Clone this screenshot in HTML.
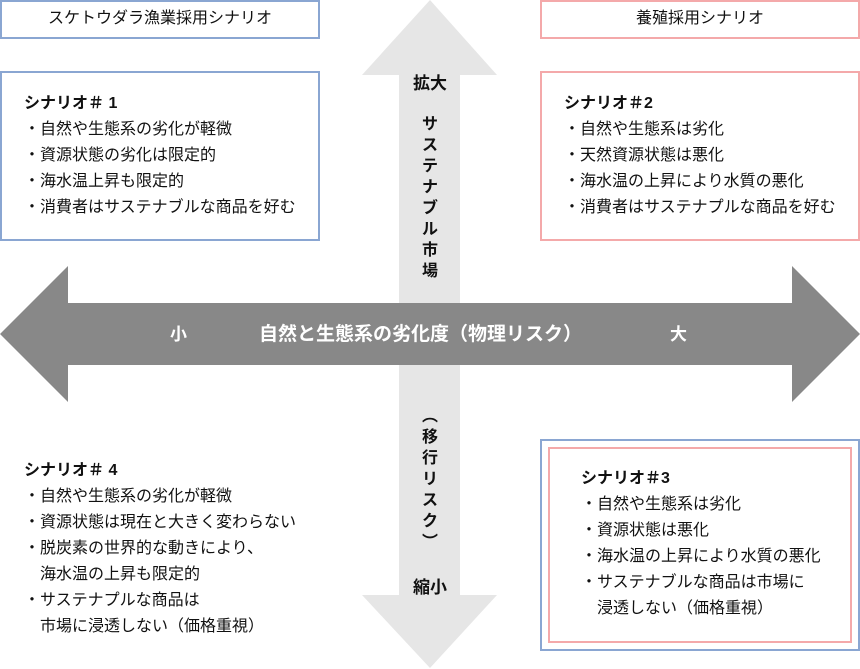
<!DOCTYPE html>
<html><head><meta charset="utf-8"><style>
html,body{margin:0;padding:0;background:#fff;width:860px;height:669px;overflow:hidden;position:relative;font-family:"Liberation Sans","Noto Sans CJK JP",sans-serif;color:#111}
.box{position:absolute;box-sizing:border-box;background:#fff}
.b{border:2px solid #8aa6d2}
.p{border:2px solid #f4a9aa}
.t{position:absolute;font-size:16px;line-height:26px;white-space:nowrap}
.t b{font-weight:bold}
.w{position:absolute;color:#fff;font-weight:bold;font-size:19px;white-space:nowrap}
.v{position:absolute;font-weight:bold;font-size:16px;color:#111;width:30px;text-align:center;line-height:21px}
</style></head><body>
<svg width="860" height="669" style="position:absolute;left:0;top:0">
<polygon points="430,0 497,75 460,75 460,595 497,595 430,668 362,595 399,595 399,75 362,75" fill="#e6e6e6"/>
<polygon points="0,334 68,266 68,303 792,303 792,266 860,334 792,402 792,365 68,365 68,402" fill="#888888"/>
</svg>
<div class="box b" style="left:0;top:0;width:320px;height:39px"></div>
<div class="t" style="left:0;top:6px;width:320px;text-align:center">スケトウダラ漁業採用シナリオ</div>
<div class="box p" style="left:540px;top:0;width:320px;height:39px"></div>
<div class="t" style="left:540px;top:6px;width:320px;text-align:center">養殖採用シナリオ</div>

<div class="box b" style="left:0;top:71px;width:320px;height:170px"></div>
<div class="t" style="left:24px;top:91px"><b>シナリオ＃ 1</b><br>・自然や生態系の劣化が軽微<br>・資源状態の劣化は限定的<br>・海水温上昇も限定的<br>・消費者はサステナブルな商品を好む</div>

<div class="box p" style="left:540px;top:71px;width:320px;height:170px"></div>
<div class="t" style="left:564px;top:91px"><b>シナリオ＃2</b><br>・自然や生態系は劣化<br>・天然資源状態は悪化<br>・海水温の上昇により水質の悪化<br>・消費者はサステナプルな商品を好む</div>

<div class="t" style="left:24px;top:458px"><b>シナリオ＃ 4</b><br>・自然や生態系の劣化が軽微<br>・資源状態は現在と大きく変わらない<br>・脱炭素の世界的な動きにより、<br>　海水温の上昇も限定的<br>・サステナプルな商品は<br>　市場に浸透しない（価格重視）</div>

<div class="box b" style="left:540px;top:439px;width:320px;height:212px"></div>
<div class="box p" style="left:548px;top:447px;width:304px;height:196px"></div>
<div class="t" style="left:581px;top:466px"><b>シナリオ＃3</b><br>・自然や生態系は劣化<br>・資源状態は悪化<br>・海水温の上昇により水質の悪化<br>・サステナブルな商品は市場に<br>　浸透しない（価格重視）</div>

<div class="w" style="left:170px;top:320px;font-size:17px">小</div>
<div class="w" style="left:259px;top:319px">自然と生態系の劣化度（物理リスク）</div>
<div class="w" style="left:670px;top:320px;font-size:17px">大</div>

<div class="v" style="left:405px;top:73px;width:50px;font-size:17px">拡大</div>
<div class="v" style="left:415px;top:114px">サ<br>ス<br>テ<br>ナ<br>ブ<br>ル<br>市<br>場</div>
<div class="v" style="left:415px;top:406px">︵<br>移<br>行<br>リ<br>ス<br>ク<br>︶</div>
<div class="v" style="left:405px;top:577px;width:50px;font-size:17px">縮小</div>
</body></html>
